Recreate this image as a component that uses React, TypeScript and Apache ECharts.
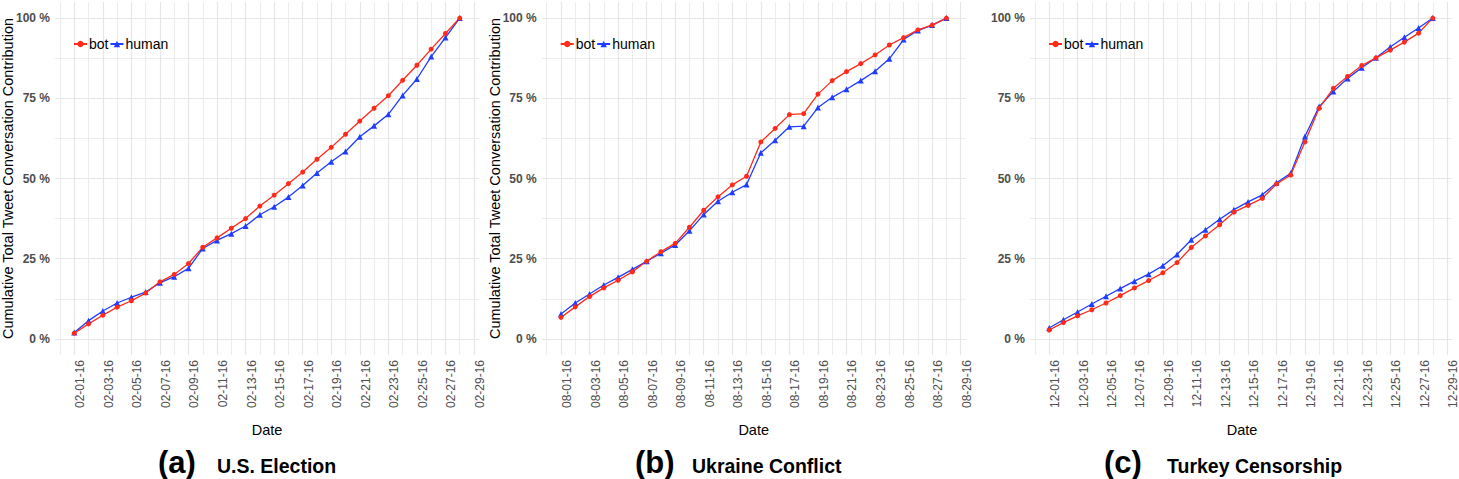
import React, { useEffect, useRef } from 'react';
import * as echarts from 'echarts';

// ---------- data (cumulative share) ----------
const ticksA = ['02-01-16', '02-03-16', '02-05-16', '02-07-16', '02-09-16', '02-11-16', '02-13-16', '02-15-16', '02-17-16', '02-19-16', '02-21-16', '02-23-16', '02-25-16', '02-27-16', '02-29-16'];
const ticksB = ['08-01-16', '08-03-16', '08-05-16', '08-07-16', '08-09-16', '08-11-16', '08-13-16', '08-15-16', '08-17-16', '08-19-16', '08-21-16', '08-23-16', '08-25-16', '08-27-16', '08-29-16'];
const ticksC = ['12-01-16', '12-03-16', '12-05-16', '12-07-16', '12-09-16', '12-11-16', '12-13-16', '12-15-16', '12-17-16', '12-19-16', '12-21-16', '12-23-16', '12-25-16', '12-27-16', '12-29-16'];

const botA = [0.018, 0.047, 0.074, 0.099, 0.119, 0.143, 0.178, 0.201, 0.235, 0.286, 0.315, 0.345, 0.375, 0.414, 0.448, 0.484, 0.52, 0.56, 0.597, 0.638, 0.679, 0.719, 0.758, 0.806, 0.853, 0.903, 0.952, 1.0];
const humanA = [0.02, 0.057, 0.087, 0.112, 0.13, 0.146, 0.175, 0.194, 0.22, 0.282, 0.307, 0.328, 0.352, 0.387, 0.412, 0.442, 0.478, 0.517, 0.552, 0.584, 0.63, 0.664, 0.7, 0.759, 0.81, 0.88, 0.939, 1.0];
const botB = [0.067, 0.1, 0.132, 0.159, 0.183, 0.209, 0.242, 0.272, 0.298, 0.348, 0.401, 0.443, 0.48, 0.507, 0.614, 0.656, 0.699, 0.702, 0.763, 0.805, 0.833, 0.858, 0.885, 0.916, 0.939, 0.963, 0.978, 1.0];
const humanB = [0.078, 0.112, 0.14, 0.168, 0.192, 0.217, 0.242, 0.267, 0.293, 0.337, 0.388, 0.429, 0.457, 0.481, 0.58, 0.619, 0.661, 0.663, 0.721, 0.753, 0.778, 0.805, 0.834, 0.873, 0.933, 0.961, 0.978, 1.0];
const botC = [0.028, 0.051, 0.072, 0.091, 0.112, 0.135, 0.159, 0.182, 0.206, 0.238, 0.285, 0.321, 0.356, 0.395, 0.416, 0.438, 0.483, 0.511, 0.614, 0.719, 0.781, 0.818, 0.852, 0.876, 0.9, 0.925, 0.953, 1.0];
const humanC = [0.034, 0.06, 0.084, 0.109, 0.133, 0.157, 0.18, 0.202, 0.228, 0.263, 0.309, 0.34, 0.373, 0.403, 0.427, 0.449, 0.487, 0.516, 0.631, 0.724, 0.771, 0.812, 0.845, 0.876, 0.91, 0.94, 0.969, 1.0];

const yTickValues = [0, 0.25, 0.5, 0.75, 1];
const yTickLabels = ['0 %', '25 %', '50 %', '75 %', '100 %'];
const yMinorValues = [0.125, 0.375, 0.625, 0.875];

const captions = ['(a)', '(b)', '(c)'];
const titles = ['U.S. Election', 'Ukraine Conflict', 'Turkey Censorship'];
const yTitle = 'Cumulative Total Tweet Conversation Contribution';
const xTitle = 'Date';

// ---------- layout / style ----------
const FONT = '"Liberation Sans", Arial, Helvetica, sans-serif';
const RED = '#ff2a1a';
const BLUE = '#1f3cff';
const gridLefts = [55, 541.7, 1030];
const GRID_W = 424;
const GRID_TOP = 2;
const GRID_H = 353;
const X_MIN = -1.35;
const X_MAX = 28.35;

const panels = [
  { bot: botA, human: humanA, ticks: ticksA, showYTitle: true },
  { bot: botB, human: humanB, ticks: ticksB, showYTitle: true },
  { bot: botC, human: humanC, ticks: ticksC, showYTitle: false },
];

export default function App() {
  const ref = useRef<HTMLDivElement>(null);

  useEffect(() => {
    if (!ref.current) return;
    const chart = echarts.init(ref.current, null, { renderer: 'svg' });

    const grid: any[] = [];
    const xAxis: any[] = [];
    const yAxis: any[] = [];
    const series: any[] = [];
    const legend: any[] = [];
    const graphic: any[] = [];

    panels.forEach((p, g) => {
      const left = gridLefts[g];
      grid.push({ left, top: GRID_TOP, width: GRID_W, height: GRID_H, containLabel: false });

      const majorX = p.ticks.map((_, i) => i * 2);
      const minorX: number[] = [];
      for (let i = -1; i < 28; i += 2) minorX.push(i);

      xAxis.push({
        type: 'value', gridIndex: g, min: X_MIN, max: X_MAX,
        axisLine: { show: false },
        axisTick: { show: false, customValues: majorX },
        axisLabel: {
          customValues: majorX, rotate: 90, margin: 5, verticalAlign: 'top',
          fontSize: 12, color: '#4d4d4d', fontFamily: FONT,
          formatter: (v: number) => p.ticks[Math.round(v / 2)] ?? '',
        },
        splitLine: { show: true, lineStyle: { color: '#e6e6e6', width: 1.2 } },
      });
      xAxis.push({
        type: 'value', gridIndex: g, min: X_MIN, max: X_MAX, position: 'bottom',
        axisLine: { show: false },
        axisTick: { show: false, customValues: minorX },
        axisLabel: { show: false },
        splitLine: { show: true, lineStyle: { color: '#ececec', width: 1 } },
      });
      yAxis.push({
        type: 'value', gridIndex: g, min: -0.05, max: 1.05,
        axisLine: { show: false },
        axisTick: { show: false, customValues: yTickValues },
        axisLabel: {
          customValues: yTickValues, margin: 5,
          fontSize: 12, fontWeight: 'bold', color: '#4d4d4d', fontFamily: FONT,
          formatter: (v: number) => yTickLabels[yTickValues.findIndex((t) => Math.abs(t - v) < 1e-6)] ?? '',
        },
        splitLine: { show: true, lineStyle: { color: '#e6e6e6', width: 1.2 } },
      });
      yAxis.push({
        type: 'value', gridIndex: g, min: -0.05, max: 1.05, position: 'left',
        axisLine: { show: false },
        axisTick: { show: false, customValues: yMinorValues },
        axisLabel: { show: false },
        splitLine: { show: true, lineStyle: { color: '#ececec', width: 1 } },
      });

      series.push({
        name: 'human', type: 'line', xAxisIndex: 2 * g, yAxisIndex: 2 * g,
        data: p.human.map((v, i) => [i, v]),
        symbol: 'triangle', symbolSize: 6, showSymbol: true,
        lineStyle: { color: BLUE, width: 1.3 },
        itemStyle: { color: BLUE },
      });
      series.push({
        name: 'bot', type: 'line', xAxisIndex: 2 * g, yAxisIndex: 2 * g,
        data: p.bot.map((v, i) => [i, v]),
        symbol: 'circle', symbolSize: 5, showSymbol: true,
        lineStyle: { color: RED, width: 1.3 },
        itemStyle: { color: RED },
      });

      legend.push({
        data: ['bot', 'human'], left: left + 18, top: 37, orient: 'horizontal',
        padding: 0,
        itemWidth: 13, itemHeight: 8, itemGap: 1,
        textStyle: { fontSize: 14, color: '#000', fontFamily: FONT, padding: [0, 0, 0, -3] },
        selectedMode: false,
      });

      const cx = left + GRID_W / 2;
      graphic.push({
        type: 'text', x: cx, y: 430,
        style: { text: xTitle, font: `14.5px ${FONT}`, fill: '#000', align: 'center', verticalAlign: 'middle' },
      });
      if (p.showYTitle) {
        graphic.push({
          type: 'text', x: left - 47, y: GRID_TOP + GRID_H / 2, rotation: Math.PI / 2,
          style: { text: yTitle, font: `14.5px ${FONT}`, fill: '#000', align: 'center', verticalAlign: 'middle' },
        });
      }
    });

    // captions
    const capLefts = [160, 637, 1106];
    const titleLefts = [218, 693, 1168];
    captions.forEach((c, i) => {
      graphic.push({
        type: 'text', x: capLefts[i] - 2, y: 462,
        style: { text: c, font: `bold 31px ${FONT}`, fill: '#000', align: 'left', verticalAlign: 'middle' },
      });
      graphic.push({
        type: 'text', x: titleLefts[i] - 1, y: 466,
        style: { text: titles[i], font: `bold 19.5px ${FONT}`, fill: '#000', align: 'left', verticalAlign: 'middle' },
      });
    });

    chart.setOption({
      animation: false,
      backgroundColor: '#fff',
      grid, xAxis, yAxis, series, legend, graphic,
    });

    return () => chart.dispose();
  }, []);

  return (
    <div
      ref={ref}
      style={{ position: 'absolute', left: 0, top: 0, width: 1459, height: 479 }}
    />
  );
}
